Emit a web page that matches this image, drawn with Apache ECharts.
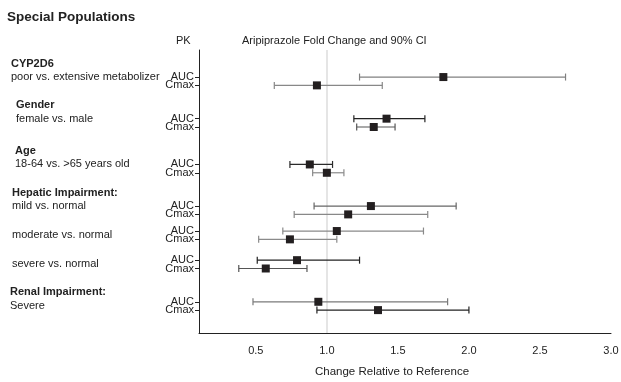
<!DOCTYPE html>
<html>
<head>
<meta charset="utf-8">
<script src="https://cdn.jsdelivr.net/npm/echarts@6/dist/echarts.min.js"></script>
<style>
  html, body { margin: 0; padding: 0; background: #fff; }
  #chart { width: 621px; height: 382px; }
</style>
</head>
<body>
<div id="chart"></div>
<script>
// Study groups (one row pair AUC / Cmax each)
const headings = ['CYP2D6', 'Gender', 'Age', 'Hepatic Impairment:', '', '', 'Renal Impairment:'];
const comparisons = ['poor vs. extensive metabolizer', 'female vs. male', '18-64 vs. >65 years old',
  'mild vs. normal', 'moderate vs. normal', 'severe vs. normal', 'Severe'];
const pkParams = ['AUC', 'Cmax'];

// Fold change and 90% CI
const aucRatio = [1.82, 1.42, 0.88, 1.31, 1.07, 0.79, 0.94];
const aucLower = [1.23, 1.19, 0.74, 0.91, 0.69, 0.51, 0.48];
const aucUpper = [2.68, 1.69, 1.04, 1.91, 1.68, 1.23, 1.85];
const cmaxRatio = [0.93, 1.33, 1.00, 1.15, 0.74, 0.57, 1.36];
const cmaxLower = [0.63, 1.21, 0.90, 0.77, 0.52, 0.38, 0.93];
const cmaxUpper = [1.39, 1.48, 1.12, 1.71, 1.07, 0.86, 2.00];

const xTicks = [0.5, 1.0, 1.5, 2.0, 2.5, 3.0];

// layout: slot of each AUC row on the y category axis (Cmax sits 2 slots lower)
const slotCount = 68;
const aucSlot = [6, 16, 27, 37, 43, 50, 60];
const labelSlot = [6, 16, 27, 37, 44, 51, 61];
const labelX = [11, 16, 15, 12, 12, 12, 10];
const aucColor = ['#808080', '#222', '#2a2a2a', '#666', '#8a8a8a', '#222', '#7a7a7a'];
const cmaxColor = ['#888', '#555', '#8a8a8a', '#888', '#8a8a8a', '#555', '#222'];

const FONT = "'Liberation Sans', Arial, sans-serif";

const yCats = new Array(slotCount).fill('');
aucSlot.forEach((s) => {
  yCats[s] = pkParams[0];
  yCats[s + 2] = pkParams[1];
});

const bars = [];
const points = [];
aucSlot.forEach((s, i) => {
  bars.push({ value: [aucLower[i], aucUpper[i], s], color: aucColor[i] });
  bars.push({ value: [cmaxLower[i], cmaxUpper[i], s + 2], color: cmaxColor[i] });
  points.push([aucRatio[i], s]);
  points.push([cmaxRatio[i], s + 2]);
});

const chart = echarts.init(document.getElementById('chart'));

const option = {
  animation: false,
  textStyle: { fontFamily: FONT },
  title: {
    text: 'Special Populations',
    left: 7,
    top: 10,
    padding: 0,
    textStyle: { fontSize: 13.5, fontWeight: 'bold', color: '#222', fontFamily: FONT },
  },
  grid: { left: 199, right: 10, top: 50, bottom: 49, outerBoundsMode: 'none' },
  xAxis: {
    type: 'value',
    min: 0.1,
    max: 3.0,
    name: 'Change Relative to Reference',
    nameLocation: 'middle',
    nameGap: 33,
    nameTextStyle: { fontSize: 11.5, color: '#222', padding: [0, 26, 0, 0] },
    axisLine: { show: true, lineStyle: { color: '#222', width: 1 } },
    axisTick: { show: false },
    splitLine: { show: false },
    axisLabel: {
      customValues: xTicks,
      fontSize: 11,
      color: '#222',
      margin: 12,
      formatter: (v) => v.toFixed(1),
    },
  },
  yAxis: {
    type: 'category',
    inverse: true,
    data: yCats,
    boundaryGap: true,
    axisLine: { show: true, lineStyle: { color: '#222', width: 1 } },
    axisTick: {
      show: true,
      alignWithLabel: true,
      length: 4,
      interval: (i, v) => v !== '',
      lineStyle: { color: '#222' },
    },
    axisLabel: {
      interval: 0,
      fontSize: 11,
      color: '#222',
      margin: 5,
    },
    splitLine: { show: false },
  },
  series: [
    {
      type: 'custom',
      data: bars,
      z: 2,
      renderItem: (params, api) => {
        const lo = api.coord([api.value(0), api.value(2)]);
        const hi = api.coord([api.value(1), api.value(2)]);
        const color = bars[params.dataIndex].color;
        const cap = 3.5;
        const style = { stroke: color, lineWidth: 1.2 };
        return {
          type: 'group',
          children: [
            { type: 'line', shape: { x1: lo[0], y1: lo[1], x2: hi[0], y2: hi[1] }, style },
            { type: 'line', shape: { x1: lo[0], y1: lo[1] - cap, x2: lo[0], y2: lo[1] + cap }, style },
            { type: 'line', shape: { x1: hi[0], y1: hi[1] - cap, x2: hi[0], y2: hi[1] + cap }, style },
          ],
        };
      },
    },
    {
      type: 'scatter',
      data: points,
      symbol: 'rect',
      symbolSize: 8,
      z: 3,
      itemStyle: { color: '#231f20', opacity: 1 },
      markLine: {
        silent: true,
        symbol: 'none',
        label: { show: false },
        lineStyle: { color: '#dcdcdc', width: 1.5, type: 'solid' },
        data: [{ xAxis: 1.0 }],
        z: 1,
      },
    },
  ],
};

chart.setOption(option);

// left-hand group labels, placed on the y axis slots
const texts = [
  { type: 'text', left: 176, top: 35, style: { text: 'PK', font: '11px ' + FONT, fill: '#222' } },
  { type: 'text', left: 242, top: 35, style: { text: 'Aripiprazole Fold Change and 90% CI', font: '11px ' + FONT, fill: '#222' } },
];
comparisons.forEach((c, i) => {
  const y = chart.convertToPixel({ yAxisIndex: 0 }, labelSlot[i]);
  texts.push({
    type: 'text', x: labelX[i], y: y,
    style: { text: c, font: '11px ' + FONT, fill: '#222', verticalAlign: 'middle' },
  });
  if (headings[i]) {
    texts.push({
      type: 'text', x: labelX[i], y: y - 13.5,
      style: { text: headings[i], font: 'bold 11px ' + FONT, fill: '#222', verticalAlign: 'middle' },
    });
  }
});
chart.setOption({ graphic: texts });
</script>
</body>
</html>
